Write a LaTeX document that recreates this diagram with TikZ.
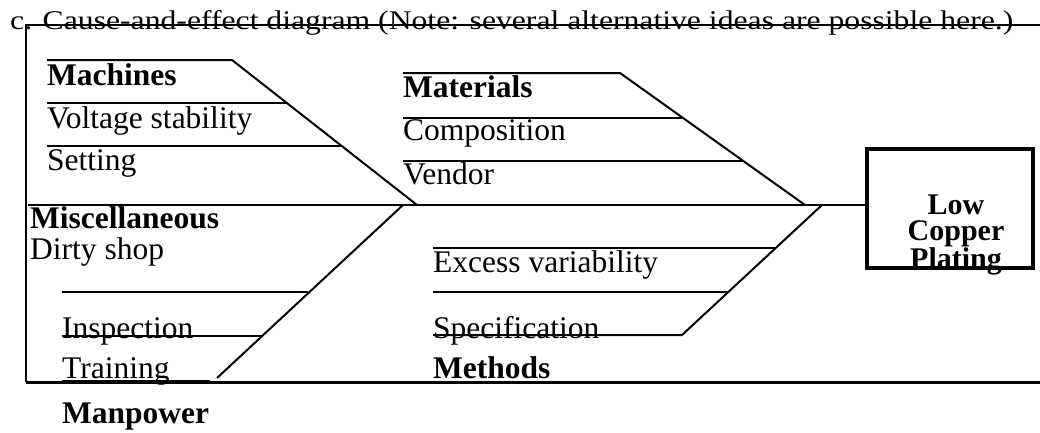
\documentclass[tikz,border=0pt]{standalone}
\usepackage{fontspec}
\usepackage{graphicx}
\setmainfont{Liberation Serif}
\begin{document}
\begin{tikzpicture}[x=1pt,y=-1pt,
  bone/.style={line width=2pt},
  lbl/.style={anchor=base west,inner sep=0pt,font=\fontsize{31.5}{32}\selectfont},
  cat/.style={anchor=base west,inner sep=0pt,font=\fontsize{31.5}{32}\selectfont\bfseries},
  effecttext/.style={inner sep=0pt,anchor=base,font=\fontsize{30}{27}\selectfont\bfseries}]
\useasboundingbox (0,0) rectangle (1040,432);

% heading
\node[anchor=base west,inner sep=0pt] (title) at (10,29)
  {\resizebox{1003pt}{\height}{\fontsize{27}{28}\selectfont c. Cause-and-effect diagram (Note: several alternative ideas are possible here.)}};

% category and cause labels
\node[cat] (machines)  at (47,85)  {Machines};
\node[lbl] (voltage)   at (47,128) {Voltage stability};
\node[lbl] (setting)   at (47,170) {Setting};
\node[cat] (materials) at (403,97) {Materials};
\node[lbl] (compos)    at (403,140) {Composition};
\node[lbl] (vendor)    at (403,184) {Vendor};
\node[cat] (misc)      at (30,228) {Miscellaneous};
\node[lbl] (dirty)     at (30,259) {Dirty shop};
\node[lbl] (excess)    at (433,272) {Excess variability};
\node[lbl] (inspect)   at (62,338) {Inspection};
\node[lbl] (spec)      at (433,338) {Specification};
\node[lbl] (training)  at (62,378) {Training};
\node[cat] (methods)   at (433,378) {Methods};
\node[cat] (manpower)  at (62,423) {Manpower};

% effect box
\node[draw,line width=4pt,minimum width=166pt,minimum height=119pt,inner sep=0pt] (effect) at (950,208.5) {};
\node[effecttext] (low)     at (956,214) {Low};
\node[effecttext] (copper)  at (956,240) {Copper};
\node[effecttext] (plating) at (956,268) {Plating};

% frame
\coordinate (ftl) at (26,25);
\coordinate (ftr) at (1040,25);
\coordinate (fbl) at (26,382);
\coordinate (fbr) at (1040,382);
\draw[bone] (ftr) -- (ftl) -- (fbl);
\draw[line width=3pt] (fbl) -- (fbr);

% spine
\coordinate (sp0) at (28,205);
\draw[bone] (sp0) -- (sp0 -| effect.west);

% Machines bone
\coordinate (ma0) at (47,60);  \coordinate (ma1) at (232,60); \coordinate (matip) at (417,205);
\coordinate (ma2) at (47,103); \coordinate (ma3) at (288,103);
\coordinate (ma4) at (47,146); \coordinate (ma5) at (342,146);
\draw[bone] (ma0) -- (ma1) -- (matip);
\draw[bone] (ma2) -- (ma3);
\draw[bone] (ma4) -- (ma5);

% Materials bone
\coordinate (mt0) at (403,73);  \coordinate (mt1) at (620,73); \coordinate (mttip) at (805,205);
\coordinate (mt2) at (403,118); \coordinate (mt3) at (682,118);
\coordinate (mt4) at (403,161); \coordinate (mt5) at (743,161);
\draw[bone] (mt0) -- (mt1) -- (mttip);
\draw[bone] (mt2) -- (mt3);
\draw[bone] (mt4) -- (mt5);

% Manpower / Miscellaneous bone
\coordinate (mp0) at (217,378); \coordinate (mptip) at (403,205);
\coordinate (mp2) at (62,292); \coordinate (mp3) at (308,292);
\coordinate (mp4) at (62,336); \coordinate (mp5) at (262,336);
\coordinate (mp6) at (62,381); \coordinate (mp7) at (210,381);
\draw[bone] (mp0) -- (mptip);
\draw[bone] (mp2) -- (mp3);
\draw[bone] (mp4) -- (mp5);
\draw[bone] (mp6) -- (mp7);

% Methods bone
\coordinate (me0) at (433,335); \coordinate (me1) at (682,335); \coordinate (metip) at (822,205);
\coordinate (me2) at (433,248); \coordinate (me3) at (775,248);
\coordinate (me4) at (433,292); \coordinate (me5) at (728,292);
\draw[bone] (me0) -- (me1) -- (metip);
\draw[bone] (me2) -- (me3);
\draw[bone] (me4) -- (me5);
\end{tikzpicture}
\end{document}
